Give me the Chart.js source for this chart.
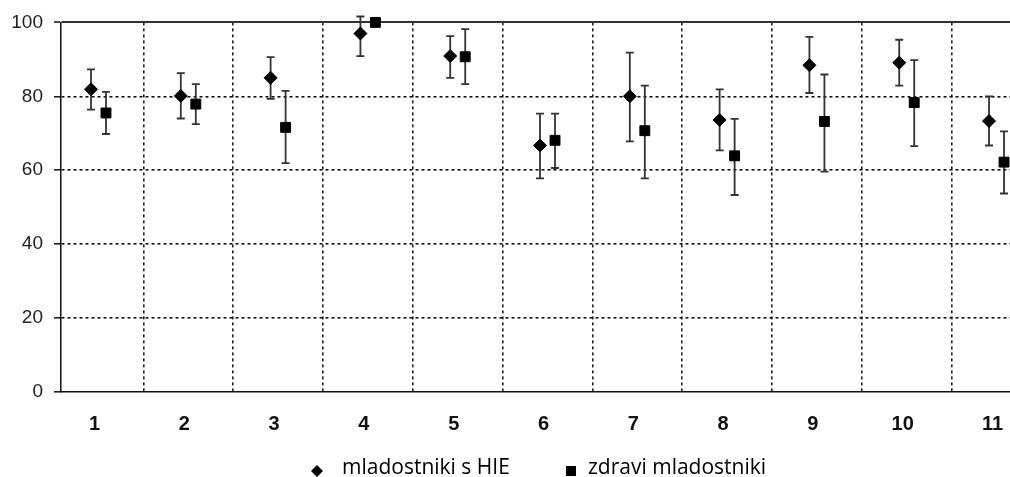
<!DOCTYPE html>
<html>
<head>
<meta charset="utf-8">
<script src="https://cdn.jsdelivr.net/npm/chart.js@4.4.1/dist/chart.umd.min.js"></script>
<style>
html,body{margin:0;padding:0;background:#fff;overflow:hidden}
#wrap{width:1010px;height:477px;position:relative}
</style>
</head>
<body>
<div id="wrap"><canvas id="c" width="1010" height="477"></canvas></div>
<script>
// ---- data ----
const categories = ['1','2','3','4','5','6','7','8','9','10','11'];
const legendLabels = ['mladostniki s HIE', 'zdravi mladostniki'];
const hieMean = [81.9, 80.1, 85.0, 97.0, 90.9, 66.7, 80.0, 73.6, 88.4, 89.1, 73.3];
const hieHigh = [87.3, 86.3, 90.6, 101.6, 96.3, 75.3, 91.8, 81.9, 96.1, 95.3, 80.0];
const hieLow  = [76.4, 74.0, 79.3, 90.9, 85.0, 57.8, 67.8, 65.4, 80.9, 82.9, 66.7];
const zdrMean = [75.5, 77.9, 71.6, 100, 90.7, 68.1, 70.7, 63.9, 73.2, 78.3, 62.2];
const zdrHigh = [81.2, 83.3, 81.5, 100, 98.2, 75.3, 82.9, 73.9, 85.9, 89.8, 70.5];
const zdrLow  = [69.8, 72.5, 61.9, 100, 83.3, 60.6, 57.8, 53.3, 59.6, 66.5, 53.7];
const yTicks = [0, 20, 40, 60, 80, 100];

// ---- helpers ----
const catPos = categories.map((c, i) => i + 1);
const toPoints = arr => arr.map((v, i) => ({x: catPos[i], y: v}));
const X_MIN = 0.5824, X_MAX = 11.15;

const shiftPlugin = {
  id: 'shift',
  afterDatasetsUpdate(chart) {
    chart.data.datasets.forEach((ds, i) => {
      const meta = chart.getDatasetMeta(i);
      meta.data.forEach(p => { p.x += ds.shiftPx || 0; });
    });
  }
};

const errPlugin = {
  id: 'err',
  beforeDatasetsDraw(chart) {
    const {ctx} = chart;
    const y = chart.scales.y;
    ctx.save();
    ctx.strokeStyle = '#333';
    ctx.lineWidth = 1.8;
    chart.data.datasets.forEach((ds, i) => {
      const meta = chart.getDatasetMeta(i);
      meta.data.forEach((p, j) => {
        const lo = ds.low[j], hi = ds.high[j];
        if (lo === hi) return;
        const y1 = y.getPixelForValue(lo), y2 = y.getPixelForValue(hi);
        ctx.beginPath();
        ctx.moveTo(p.x, y1); ctx.lineTo(p.x, y2);
        ctx.moveTo(p.x - 4, y1); ctx.lineTo(p.x + 4, y1);
        ctx.moveTo(p.x - 4, y2); ctx.lineTo(p.x + 4, y2);
        ctx.stroke();
      });
    });
    ctx.restore();
  }
};

const legendPlugin = {
  id: 'customLegend',
  afterDraw(chart) {
    const ctx = chart.ctx;
    ctx.save();
    ctx.fillStyle = '#000';
    // diamond
    const dx = 317, dy = 471, r = 6;
    ctx.beginPath();
    ctx.moveTo(dx - r, dy); ctx.lineTo(dx, dy - r); ctx.lineTo(dx + r, dy); ctx.lineTo(dx, dy + r);
    ctx.closePath(); ctx.fill();
    // square
    ctx.fillRect(571 - 5, 471 - 5, 10, 10);
    ctx.font = '21px "Open Sans", sans-serif';
    ctx.textBaseline = 'alphabetic';
    ctx.textAlign = 'left';
    ctx.fillText(legendLabels[0], 342, 474);
    ctx.fillText(legendLabels[1], 588, 474);
    ctx.restore();
  }
};

new Chart(document.getElementById('c'), {
  type: 'scatter',
  data: {
    datasets: [
      {label: legendLabels[0], data: toPoints(hieMean), low: hieLow, high: hieHigh, shiftPx: -7.5,
       xAxisID: 'x', yAxisID: 'y', pointStyle: 'rectRot', pointRadius: 6.5, pointHoverRadius: 6.5,
       backgroundColor: '#000', borderColor: '#000', borderWidth: 1, clip: false},
      {label: legendLabels[1], data: toPoints(zdrMean), low: zdrLow, high: zdrHigh, shiftPx: 7.5,
       xAxisID: 'x', yAxisID: 'y', pointStyle: 'rect', pointRadius: 7, pointHoverRadius: 7,
       backgroundColor: '#000', borderColor: '#000', borderWidth: 1, clip: false}
    ]
  },
  options: {
    responsive: false,
    animation: false,
    events: [],
    layout: {autoPadding: false, padding: {top: 19, bottom: 35, left: 0, right: 0}},
    plugins: {legend: {display: false}, tooltip: {enabled: false}},
    scales: {
      x: {
        type: 'linear', min: X_MIN, max: X_MAX, position: 'bottom',
        afterBuildTicks: s => { s.ticks = catPos.map(v => ({value: v})); },
        afterFit: s => { s.height = 50; },
        grid: {display: false, drawTicks: true, tickLength: 20},
        border: {display: true, color: '#111', width: 1.5},
        ticks: {
          callback: (v, i) => categories[i],
          font: {family: '"Liberation Sans", Arial, sans-serif', size: 20, weight: 'bold'},
          color: '#111', padding: 0, labelOffset: -4, maxRotation: 0, autoSkip: false
        }
      },
      xg: {
        type: 'linear', min: X_MIN, max: X_MAX, position: 'bottom',
        afterBuildTicks: s => { s.ticks = catPos.slice(0, -1).map(v => ({value: v + 0.5})); },
        afterFit: s => { s.height = 0; },
        ticks: {display: false, padding: 0},
        border: {display: false, dash: [3, 3]},
        grid: {color: '#222', lineWidth: 1.6, drawTicks: false}
      },
      y: {
        min: 0, max: 100,
        afterBuildTicks: s => { s.ticks = yTicks.map(v => ({value: v})); },
        afterFit: s => { s.width = 61; },
        grid: {
          color: c => c.tick && c.tick.value === 0 ? 'rgba(0,0,0,0)' : (c.tick && c.tick.value === 100 ? '#333' : '#111'),
          lineWidth: c => c.tick && c.tick.value === 100 ? 2 : 1.6,
          tickColor: '#111', tickLength: 7, tickWidth: 1.5, tickBorderDash: []
        },
        border: {color: '#111', width: 1.5, dash: c => (c.tick && c.tick.value !== 100) ? [3, 3] : []},
        ticks: {
          font: {family: '"Liberation Sans", Arial, sans-serif', size: 19},
          color: '#222', padding: 11
        }
      }
    }
  },
  plugins: [shiftPlugin, errPlugin, legendPlugin]
});
</script>
</body>
</html>
